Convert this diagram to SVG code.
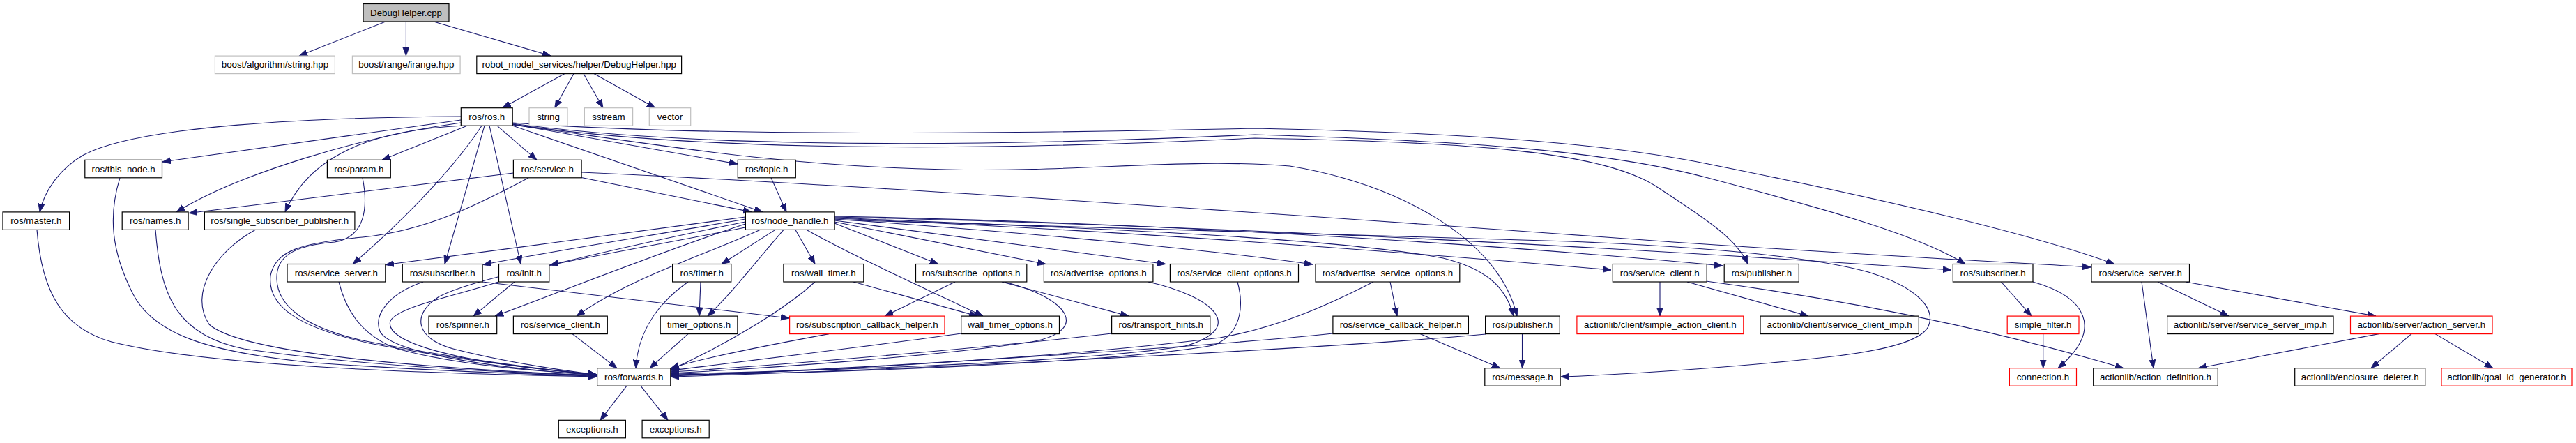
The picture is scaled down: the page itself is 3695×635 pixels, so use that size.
<svg xmlns="http://www.w3.org/2000/svg" width="3695" height="635" viewBox="0 0 3695 635">
<defs>
<style>
.node rect{fill:#ffffff;stroke:#000000;stroke-width:1.2}
.node.gray rect{stroke:#bfbfbf}
.node.red rect{stroke:#ff0000}
.node.root rect{fill:#bfbfbf}
.node text{font-family:"Liberation Sans",Arial,sans-serif;font-size:13.33px;fill:#000000;text-anchor:middle}
#edges path{fill:none;stroke:#191970;stroke-width:1.1;marker-end:url(#arr)}
</style>
<marker id="arr" markerUnits="userSpaceOnUse" markerWidth="13" markerHeight="10" viewBox="0 0 13 10" refX="12" refY="5" orient="auto">
<path d="M0,0.5 L12,5 L0,9.5 z" fill="#191970" stroke="#191970" stroke-width="0.8"/>
</marker>
</defs>
<rect x="0" y="0" width="3695" height="635" fill="#ffffff"/>
<g id="edges">
<path d="M553,31 L429,80"/>
<path d="M582.4,31 L582.4,80"/>
<path d="M622,31 L790,80"/>
<path d="M810,105.6 L720.6,154.7"/>
<path d="M823,105.6 L795.7,154.7"/>
<path d="M837,105.6 L865,154.7"/>
<path d="M852,105.6 L940,154.7"/>
<path d="M713,180.2 L770,229.3"/>
<path d="M702,180.2 L747,378.5"/>
<path d="M695,180.2 L638,378.5"/>
<path d="M735,180 L1094,303.9"/>
<path d="M735,178 L1058,235"/>
<path d="M691,180.2 C645,250 565,328 506,378.5"/>
<path d="M665,180 C560,185 450,210 409,303.9"/>
<path d="M661,176 C520,195 340,250 253,303.9"/>
<path d="M661,172 L233,232"/>
<path d="M670,180.2 L548,229.3"/>
<path d="M661,167 C450,168 200,180 120,222 C85,242 63,275 57,303.9"/>
<path d="M735,179 C900,200 1100,238 1358,243 C1550,247 1700,226 1850,238 C2000,262 2150,340 2176,453.1"/>
<path d="M735,178 C950,210 1300,222 1800,198 C2100,204 2300,215 2380,270 C2440,310 2490,340 2507,378.5"/>
<path d="M735,177 C950,206 1300,216 1800,193 C2100,202 2300,215 2450,255 C2600,295 2750,335 2819,378.5"/>
<path d="M735,176 C950,192 1300,195 1800,184 C2100,190 2300,205 2450,235 C2650,275 2900,330 3033,378.5"/>
<path d="M736.4,248 L271,305.5"/>
<path d="M834,254.5 L1078,303.9"/>
<path d="M834,247 C1300,268 2000,318 2400,347 C2700,367 2900,377 2999,383"/>
<path d="M758,255 C700,285 620,330 520,340 C430,348 395,360 388,395 C383,440 430,470 530,492 C650,515 760,528 856,537"/>
<path d="M520,254.8 C528,295 525,340 480,347 C420,352 396,368 397,400 C398,440 440,470 520,488 C640,512 780,530 856,537"/>
<path d="M53,329.4 C60,420 90,470 160,490 C300,525 600,535 856,540"/>
<path d="M172,254.8 C155,310 160,360 190,420 C220,480 300,505 450,520 C620,532 750,536 856,539"/>
<path d="M223,329.4 C230,420 250,480 350,500 C500,522 700,534 856,538"/>
<path d="M366,329.4 C310,360 270,420 300,465 C350,510 650,530 856,538"/>
<path d="M486,404 C495,440 515,480 570,500 C650,522 760,532 856,537"/>
<path d="M607,404 C560,420 535,450 545,475 C560,505 700,527 856,538"/>
<path d="M715,404 C650,425 570,440 560,460 C550,490 650,520 856,537"/>
<path d="M1069,326 C900,360 700,390 630,425 C590,450 595,485 650,500 C720,518 800,530 856,537"/>
<path d="M1069,311 C950,328 700,360 553,379.5"/>
<path d="M1069,314 C950,335 780,362 693,379.5"/>
<path d="M1069,318 C960,340 850,365 789,380"/>
<path d="M1069,321 C950,360 800,420 710,453.1"/>
<path d="M1090,329.4 C1000,370 900,400 827,453.1"/>
<path d="M1112,329.4 L1035,378.5"/>
<path d="M1124,329.4 C1080,380 1050,420 1015,453.1"/>
<path d="M1141,329.4 L1169,378.5"/>
<path d="M1157,329.4 C1230,370 1320,410 1410,453.1"/>
<path d="M1197,320 L1346,378.5"/>
<path d="M1197,318 L1500,378.5"/>
<path d="M1197,316 L1672,378.5"/>
<path d="M1197,314 C1500,335 1750,360 1883,379"/>
<path d="M1197,312 C1500,325 1900,338 2070,370 C2130,385 2160,410 2171,453.1"/>
<path d="M1197,313 C1600,330 2000,360 2311,387"/>
<path d="M1197,310 C1700,320 2200,355 2471,381"/>
<path d="M1197,311 C1800,325 2400,360 2799,387"/>
<path d="M1197,315 C1500,325 1900,335 2250,346 C2450,354 2600,368 2680,390 C2745,410 2778,440 2766,468 C2755,490 2700,502 2637,510 C2520,524 2350,536 2239,540"/>
<path d="M738,404 L679,453.1"/>
<path d="M692,404 L1132,456"/>
<path d="M1189,478.6 C1100,495 1000,515 962,528"/>
<path d="M821,478.6 L885,527.7"/>
<path d="M987,404 C950,430 915,470 912,527.7"/>
<path d="M1005,404 L1003,453.1"/>
<path d="M987,478.6 L932,527.7"/>
<path d="M1224,404 L1402,453.1"/>
<path d="M1169,404 C1130,440 1050,490 962,530"/>
<path d="M1370,404 L1269,453.1"/>
<path d="M1437,404 L1619,453.1"/>
<path d="M1441,404 C1540,430 1560,475 1480,490 C1350,510 1100,528 962,535"/>
<path d="M1647,404 C1740,425 1790,470 1700,496 C1550,520 1150,532 962,536"/>
<path d="M1775,404 C1785,440 1780,480 1740,495 C1600,520 1200,535 962,537"/>
<path d="M1379,478 C1250,496 1050,520 962,531"/>
<path d="M1595,478 C1400,500 1100,525 962,533"/>
<path d="M1970,404 C1900,440 1830,470 1750,484 C1500,515 1150,533 962,538"/>
<path d="M1994,404 L2004,453.1"/>
<path d="M1912,478 C1700,500 1200,530 962,539"/>
<path d="M2037,478.6 L2152,527.7"/>
<path d="M2183.5,478.6 L2183.5,527.7"/>
<path d="M2131,479 C1900,500 1300,530 962,540"/>
<path d="M2381,404 L2381,453.1"/>
<path d="M2420,404 L2594,453.1"/>
<path d="M2447,403 C2650,430 2850,470 3046,527.7"/>
<path d="M2870.5,404 L2914,453.1"/>
<path d="M2916,404 C2990,425 3020,470 2952,527.7"/>
<path d="M2930.7,478.6 L2930.7,527.7"/>
<path d="M3072,404 L3089,527.7"/>
<path d="M3095,404 L3197,453.1"/>
<path d="M3135,404 L3408,453.1"/>
<path d="M3412,478.6 L3153,527.7"/>
<path d="M3459,478.6 L3401,527.7"/>
<path d="M3493,478.6 L3576,527.7"/>
<path d="M899,553.2 L861,602.3"/>
<path d="M919,553.2 L958,602.3"/>
<path d="M1106,254.8 L1128,303.9"/>
</g>
<g id="n_debughelper_cpp" class="node root"><rect x="521" y="5.5" width="123" height="25.5"/><text x="582.5" y="22.8">DebugHelper.cpp</text></g>
<g id="n_boost_algorithm" class="node gray"><rect x="308.4" y="80.1" width="172" height="25.5"/><text x="394.4" y="97.4">boost/algorithm/string.hpp</text></g>
<g id="n_boost_irange" class="node gray"><rect x="505.4" y="80.1" width="154.7" height="25.5"/><text x="582.75" y="97.4">boost/range/irange.hpp</text></g>
<g id="n_debughelper_hpp" class="node"><rect x="683.8" y="80.1" width="293.8" height="25.5"/><text x="830.7" y="97.4">robot_model_services/helper/DebugHelper.hpp</text></g>
<g id="n_ros_ros" class="node"><rect x="661.3" y="154.7" width="73.9" height="25.5"/><text x="698.25" y="172">ros/ros.h</text></g>
<g id="n_string" class="node gray"><rect x="759" y="154.7" width="55" height="25.5"/><text x="786.5" y="172">string</text></g>
<g id="n_sstream" class="node gray"><rect x="838.4" y="154.7" width="69.2" height="25.5"/><text x="873" y="172">sstream</text></g>
<g id="n_vector" class="node gray"><rect x="931.3" y="154.7" width="59.4" height="25.5"/><text x="961" y="172">vector</text></g>
<g id="n_this_node" class="node"><rect x="121.8" y="229.3" width="110.7" height="25.5"/><text x="177.15" y="246.6">ros/this_node.h</text></g>
<g id="n_param" class="node"><rect x="469.4" y="229.3" width="90.9" height="25.5"/><text x="514.85" y="246.6">ros/param.h</text></g>
<g id="n_service" class="node"><rect x="736.4" y="229.3" width="97.7" height="25.5"/><text x="785.25" y="246.6">ros/service.h</text></g>
<g id="n_topic" class="node"><rect x="1058.3" y="229.3" width="83" height="25.5"/><text x="1099.8" y="246.6">ros/topic.h</text></g>
<g id="n_master" class="node"><rect x="4" y="303.9" width="95.6" height="25.5"/><text x="51.8" y="321.2">ros/master.h</text></g>
<g id="n_names" class="node"><rect x="175.2" y="303.9" width="94.9" height="25.5"/><text x="222.65" y="321.2">ros/names.h</text></g>
<g id="n_single_sub_pub" class="node"><rect x="293.4" y="303.9" width="215.5" height="25.5"/><text x="401.15" y="321.2">ros/single_subscriber_publisher.h</text></g>
<g id="n_node_handle" class="node"><rect x="1069.4" y="303.9" width="127.7" height="25.5"/><text x="1133.25" y="321.2">ros/node_handle.h</text></g>
<g id="n_service_server_a" class="node"><rect x="412" y="378.5" width="140.8" height="25.5"/><text x="482.4" y="395.8">ros/service_server.h</text></g>
<g id="n_subscriber_a" class="node"><rect x="577.3" y="378.5" width="114.8" height="25.5"/><text x="634.7" y="395.8">ros/subscriber.h</text></g>
<g id="n_init" class="node"><rect x="715.5" y="378.5" width="72.3" height="25.5"/><text x="751.65" y="395.8">ros/init.h</text></g>
<g id="n_timer" class="node"><rect x="964.6" y="378.5" width="84.2" height="25.5"/><text x="1006.7" y="395.8">ros/timer.h</text></g>
<g id="n_wall_timer" class="node"><rect x="1123.9" y="378.5" width="114.9" height="25.5"/><text x="1181.35" y="395.8">ros/wall_timer.h</text></g>
<g id="n_subscribe_options" class="node"><rect x="1313.5" y="378.5" width="159.3" height="25.5"/><text x="1393.15" y="395.8">ros/subscribe_options.h</text></g>
<g id="n_advertise_options" class="node"><rect x="1497.4" y="378.5" width="156.5" height="25.5"/><text x="1575.65" y="395.8">ros/advertise_options.h</text></g>
<g id="n_service_client_options" class="node"><rect x="1678.4" y="378.5" width="184.1" height="25.5"/><text x="1770.45" y="395.8">ros/service_client_options.h</text></g>
<g id="n_adv_service_options" class="node"><rect x="1887" y="378.5" width="206.8" height="25.5"/><text x="1990.4" y="395.8">ros/advertise_service_options.h</text></g>
<g id="n_service_client_b" class="node"><rect x="2313.3" y="378.5" width="134.9" height="25.5"/><text x="2380.75" y="395.8">ros/service_client.h</text></g>
<g id="n_publisher_b" class="node"><rect x="2473.2" y="378.5" width="107.1" height="25.5"/><text x="2526.75" y="395.8">ros/publisher.h</text></g>
<g id="n_subscriber_b" class="node"><rect x="2801.3" y="378.5" width="114.7" height="25.5"/><text x="2858.65" y="395.8">ros/subscriber.h</text></g>
<g id="n_service_server_b" class="node"><rect x="3000" y="378.5" width="140.5" height="25.5"/><text x="3070.25" y="395.8">ros/service_server.h</text></g>
<g id="n_spinner" class="node"><rect x="615" y="453.1" width="97.7" height="25.5"/><text x="663.85" y="470.4">ros/spinner.h</text></g>
<g id="n_service_client_a" class="node"><rect x="736.4" y="453.1" width="134.9" height="25.5"/><text x="803.85" y="470.4">ros/service_client.h</text></g>
<g id="n_timer_options" class="node"><rect x="947.2" y="453.1" width="110.7" height="25.5"/><text x="1002.55" y="470.4">timer_options.h</text></g>
<g id="n_sub_cb_helper" class="node red"><rect x="1132.6" y="453.1" width="222.4" height="25.5"/><text x="1243.8" y="470.4">ros/subscription_callback_helper.h</text></g>
<g id="n_wall_timer_options" class="node"><rect x="1378.7" y="453.1" width="140.8" height="25.5"/><text x="1449.1" y="470.4">wall_timer_options.h</text></g>
<g id="n_transport_hints" class="node"><rect x="1594.6" y="453.1" width="141.2" height="25.5"/><text x="1665.2" y="470.4">ros/transport_hints.h</text></g>
<g id="n_service_cb_helper" class="node"><rect x="1911.9" y="453.1" width="194.5" height="25.5"/><text x="2009.15" y="470.4">ros/service_callback_helper.h</text></g>
<g id="n_publisher_a" class="node"><rect x="2130.6" y="453.1" width="106.7" height="25.5"/><text x="2183.95" y="470.4">ros/publisher.h</text></g>
<g id="n_simple_action_client" class="node red"><rect x="2261.9" y="453.1" width="238.9" height="25.5"/><text x="2381.35" y="470.4">actionlib/client/simple_action_client.h</text></g>
<g id="n_service_client_imp" class="node"><rect x="2525" y="453.1" width="227.3" height="25.5"/><text x="2638.65" y="470.4">actionlib/client/service_client_imp.h</text></g>
<g id="n_simple_filter" class="node red"><rect x="2879.2" y="453.1" width="102.8" height="25.5"/><text x="2930.6" y="470.4">simple_filter.h</text></g>
<g id="n_service_server_imp" class="node"><rect x="3108.6" y="453.1" width="238.4" height="25.5"/><text x="3227.8" y="470.4">actionlib/server/service_server_imp.h</text></g>
<g id="n_action_server" class="node red"><rect x="3371.5" y="453.1" width="203.5" height="25.5"/><text x="3473.25" y="470.4">actionlib/server/action_server.h</text></g>
<g id="n_forwards" class="node"><rect x="856.6" y="527.7" width="105.2" height="25.5"/><text x="909.2" y="545">ros/forwards.h</text></g>
<g id="n_message" class="node"><rect x="2129.8" y="527.7" width="108.3" height="25.5"/><text x="2183.95" y="545">ros/message.h</text></g>
<g id="n_connection" class="node red"><rect x="2882.4" y="527.7" width="96.1" height="25.5"/><text x="2930.45" y="545">connection.h</text></g>
<g id="n_action_definition" class="node"><rect x="3002.7" y="527.7" width="178.6" height="25.5"/><text x="3092" y="545">actionlib/action_definition.h</text></g>
<g id="n_enclosure_deleter" class="node"><rect x="3291.7" y="527.7" width="187" height="25.5"/><text x="3385.2" y="545">actionlib/enclosure_deleter.h</text></g>
<g id="n_goal_id_generator" class="node red"><rect x="3502" y="527.7" width="187" height="25.5"/><text x="3595.5" y="545">actionlib/goal_id_generator.h</text></g>
<g id="n_exceptions_a" class="node"><rect x="801.3" y="602.3" width="96.1" height="25.5"/><text x="849.35" y="619.6">exceptions.h</text></g>
<g id="n_exceptions_b" class="node"><rect x="921.1" y="602.3" width="96.1" height="25.5"/><text x="969.15" y="619.6">exceptions.h</text></g>
</svg>
